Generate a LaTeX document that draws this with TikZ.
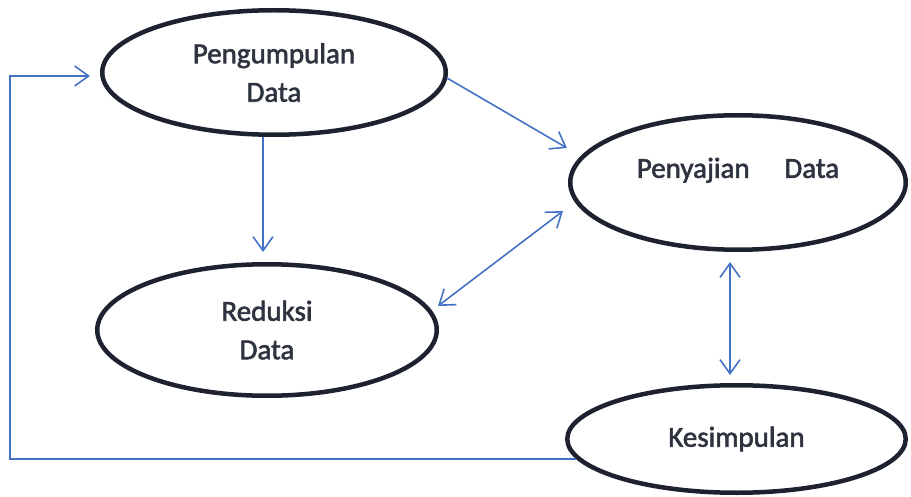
\documentclass[tikz,border=0pt]{standalone}
\usepackage{fontspec}
\setmainfont{Carlito}
\newfontfamily\ovalfont[FakeBold=2]{Carlito}
\usetikzlibrary{shapes.geometric,arrows.meta,calc}
\definecolor{linkblue}{HTML}{4472C4}
\definecolor{rimcol}{HTML}{1E2230}
\definecolor{txtcol}{HTML}{2E3340}
\tikzset{
  oval/.style={ellipse, draw=rimcol, line width=4.5pt, inner sep=0pt, align=center,
    text=txtcol, font=\ovalfont\fontsize{29}{38.5}\selectfont},
  conn/.style={draw=linkblue, line width=1.6pt, >={Straight Barb[length=14pt,width=20pt]}},
}
\begin{document}
\begin{tikzpicture}[x=1pt,y=-1pt]
\useasboundingbox (0,0) rectangle (911,497);
\node[oval, minimum width=343.5pt, minimum height=124.5pt] (p) at (274,72.5) {Pengumpulan\\Data};
\node[oval, minimum width=335.5pt, minimum height=134.5pt] (s) at (738,182.5)
  {\raisebox{0pt}[10pt][19.4pt]{Penyajian\hspace{1.2em}Data}};
\node[oval, minimum width=339.5pt, minimum height=131.5pt] (r) at (267,330) {Reduksi\\Data};
\node[oval, minimum width=338.5pt, minimum height=107.5pt] (k) at (736.5,439) {Kesimpulan};
\coordinate (fbc) at (10,76);
% feedback loop
\draw[conn,->,shorten >=10pt] (k.187) -| (fbc) -- (fbc -| p.west);
% Pengumpulan -> Reduksi
\draw[conn,->] ([xshift=-11pt]p.south) -- ([xshift=-4pt,yshift=10pt]r.north);
% Pengumpulan -> Penyajian
\draw[conn,->] ([xshift=-1pt,yshift=-5.5pt]p.east) -- ([xshift=-1pt,yshift=34.5pt]s.west);
% Reduksi <-> Penyajian
\draw[conn,<->] ([xshift=-1pt,yshift=24pt]r.east) -- ([xshift=-5pt,yshift=-28.5pt]s.west);
% Penyajian <-> Kesimpulan
\draw[conn,<->] ([xshift=-8pt,yshift=-10pt]s.south) -- ([xshift=-6.5pt,yshift=8pt]k.north);
\end{tikzpicture}
\end{document}
